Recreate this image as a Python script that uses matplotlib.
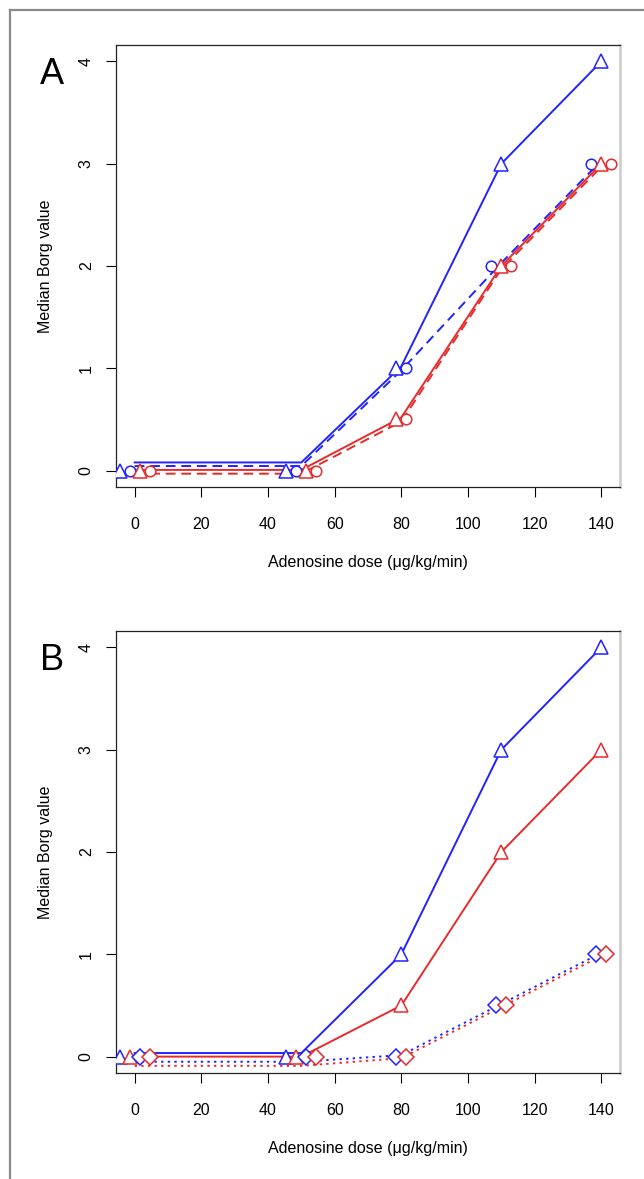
import matplotlib
matplotlib.use('Agg')
import matplotlib.pyplot as plt
from matplotlib.lines import Line2D

plt.rcParams['font.family'] = ['Liberation Sans', 'DejaVu Sans']

doses = [0, 50, 80, 110, 140]
x_ticks = [0, 20, 40, 60, 80, 100, 120, 140]
y_ticks = [0, 1, 2, 3, 4]

# Panel A median Borg values
a_blue_tri = [0, 0, 1, 3, 4]
a_blue_circ = [0, 0, 1, 2, 3]
a_red_tri = [0, 0, 0.5, 2, 3]
a_red_circ = [0, 0, 0.5, 2, 3]

# Panel B median Borg values
b_blue_tri = [0, 0, 1, 3, 4]
b_red_tri = [0, 0, 0.5, 2, 3]
b_blue_dia = [0, 0, 0, 0.5, 1]
b_red_dia = [0, 0, 0, 0.5, 1]

BLUE = '#2222ff'
RED = '#e82a2a'

# marker x-jitter and line y-offsets used to separate overlapping series
a_series = [
    dict(y=a_blue_tri, c=BLUE, m='^', ls='-', dx=[-4.5, -4.5, -1.5, 0, 0], dy=[0.08, 0.08, 0.02, 0, 0]),
    dict(y=a_blue_circ, c=BLUE, m='o', ls='--', dx=[-1.5, -1.5, 1.5, -3, -3], dy=[0.045, 0.045, -0.02, 0.03, 0.03]),
    dict(y=a_red_tri, c=RED, m='^', ls='-', dx=[1.5, 1.5, -1.5, 0, 0], dy=[0.007, 0.007, 0.02, 0, 0]),
    dict(y=a_red_circ, c=RED, m='o', ls='--', dx=[4.5, 4.5, 1.5, 3, 3], dy=[-0.03, -0.03, -0.02, -0.03, -0.03]),
]
b_series = [
    dict(y=b_blue_tri, c=BLUE, m='^', ls='-', dx=[-4.5, -4.5, 0, 0, 0], dy=[0.035, 0.035, 0, 0, 0]),
    dict(y=b_red_tri, c=RED, m='^', ls='-', dx=[-1.5, -1.5, 0, 0, 0], dy=[0.0, 0.0, 0, 0, 0]),
    dict(y=b_blue_dia, c=BLUE, m='D', ls=':', dx=[1.5, 1.5, -1.5, -1.5, -1.5], dy=[-0.05, -0.05, 0.015, 0.015, 0.015]),
    dict(y=b_red_dia, c=RED, m='D', ls=':', dx=[4.5, 4.5, 1.5, 1.5, 1.5], dy=[-0.09, -0.09, -0.015, -0.015, -0.015]),
]

W, H = 644, 1179
fig = plt.figure(figsize=(W / 100, H / 100), dpi=100)

# outer frame lines (top and left)
fig.add_artist(Line2D([10 / W, 1], [1 - 10 / H, 1 - 10 / H], color='#8a8a8a', lw=1.6, transform=fig.transFigure))
fig.add_artist(Line2D([10 / W, 10 / W], [0, 1 - 10 / H], color='#8a8a8a', lw=1.6, transform=fig.transFigure))


def make_axes(top_px, label):
    left, right, bottom = 116, 620, top_px + 442
    ax = fig.add_axes([left / W, 1 - bottom / H, (right - left) / W, 442 / H])
    ax.set_xlim(-5.6, 145.6)
    ax.set_ylim(-0.16, 4.16)
    ax.set_xticks(x_ticks)
    ax.set_yticks(y_ticks)
    ax.tick_params(axis='both', direction='out', length=7.5, width=0.8, labelsize=11.5, colors='black')
    ax.tick_params(axis='x', pad=14)
    ax.tick_params(axis='y', pad=8.5, labelrotation=90)
    for t in ax.get_yticklabels():
        t.set_va('center')
    for s in ['left', 'bottom', 'top']:
        ax.spines[s].set_color('#222222')
        ax.spines[s].set_linewidth(0.9)
    ax.spines['right'].set_color('#cfcfcf')
    ax.spines['right'].set_linewidth(2.0)
    ax.set_xlabel('Adenosine dose (\u03bcg/kg/min)', fontsize=11.5)
    ax.xaxis.set_label_coords(0.5, -(563 - 487) / 442)
    ax.set_ylabel('Median Borg value', fontsize=11.5)
    ax.yaxis.set_label_coords(-(116 - 46) / 504, 0.5)
    ax.xaxis.label.set_va('center')
    ax.yaxis.label.set_va('center')
    fig.text(52 / W, 1 - (top_px + 30) / H, label, fontsize=26, ha='center', va='center')
    return ax


def draw(ax, series):
    for s in series:
        ly = [v + d for v, d in zip(s['y'], s['dy'])]
        ax.plot(doses, ly, color=s['c'], ls=s['ls'], lw=1.4, zorder=2,
                dashes=(5, 3) if s['ls'] == '--' else ((1.2, 2.2) if s['ls'] == ':' else (None, None)))
    for s in series:
        mx = [d + j for d, j in zip(doses, s['dx'])]
        ms = 9.5 if s['m'] == '^' else (7.6 if s['m'] == 'o' else 8.0)
        ax.plot(mx, s['y'], ls='none', marker=s['m'], ms=ms, mfc='white', mec=s['c'], mew=1.1, zorder=3)


axA = make_axes(45, 'A')
draw(axA, a_series)
axB = make_axes(631, 'B')
draw(axB, b_series)

fig.savefig('out.png', dpi=100)
